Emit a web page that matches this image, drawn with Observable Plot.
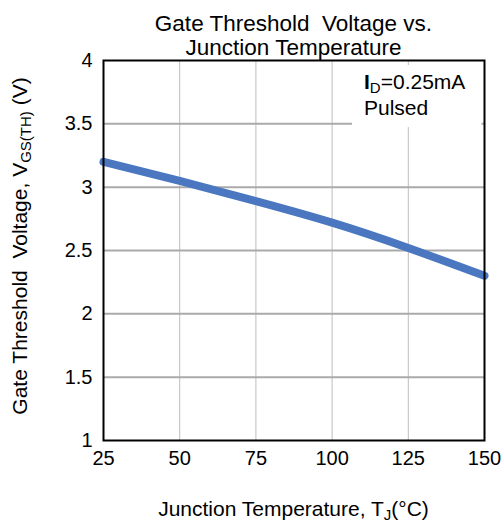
<!DOCTYPE html>
<html><head><meta charset="utf-8">
<script src="https://cdn.jsdelivr.net/npm/d3@7"></script>
<script src="https://cdn.jsdelivr.net/npm/@observablehq/plot@0.6"></script>
<style>
body{margin:0;background:#fff;}
svg text{font-family:"Liberation Sans",Arial,sans-serif;}
</style>
</head><body><div id="chart"></div>
<script>
// Data
const temps = [25, 50, 75, 100, 125, 150];          // Junction temperature (°C)
const vth   = [3.20, 3.05, 2.89, 2.72, 2.52, 2.30];  // V_GS(TH) (V)
const xTicks = [25, 50, 75, 100, 125, 150];
const yTicks = [1, 1.5, 2, 2.5, 3, 3.5, 4];
const titleLines = ["Gate Threshold  Voltage vs.", "Junction Temperature"];
const noteLine2 = "Pulsed";
// annotation box extent in data units
const noteBox = [{x1: 106.7, x2: 149.2, y1: 3.47, y2: 3.96}];

const data = temps.map((t, i) => ({t, v: vth[i]}));
const FONT = '"Liberation Sans",Arial,sans-serif';

const plot = Plot.plot({
  width: 503, height: 525,
  marginTop: 60, marginBottom: 85, marginLeft: 103, marginRight: 19,
  style: {fontFamily: FONT, fontSize: "20px", color: "#000", background: "#fff", overflow: "visible"},
  x: {domain: [25, 150]},
  y: {domain: [1, 4]},
  marks: [
    Plot.gridX(xTicks, {stroke: "#bdbdbd", strokeOpacity: 1, strokeWidth: 1}),
    Plot.gridY(yTicks.slice(1, -1), {stroke: "#aaaaaa", strokeOpacity: 1, strokeWidth: 2}),
    Plot.rect(noteBox, {x1: "x1", x2: "x2", y1: "y1", y2: "y2", fill: "white"}),
    Plot.line(data, {x: "t", y: "v", stroke: "#4a77bf", strokeWidth: 8, curve: "natural"}),
    Plot.frame({stroke: "#000", strokeWidth: 2}),
    Plot.axisX(xTicks, {tickSize: 0, tickPadding: 10, label: null, fontSize: 20, tickFormat: d => String(d)}),
    Plot.axisY(yTicks, {tickSize: 0, tickPadding: 11, label: null, fontSize: 20, tickFormat: d => String(d)})
  ]
});
document.getElementById("chart").appendChild(plot);

const svg = d3.select(plot);
svg.selectAll('[aria-label$="tick label"]').attr("font-size", 20);
const sx = plot.scale("x"), sy = plot.scale("y");
const cx = (sx.apply(25) + sx.apply(150)) / 2;

// Title
svg.append("text").attr("x", cx).attr("y", 31).attr("text-anchor", "middle")
  .attr("font-size", 22.5).attr("fill", "#000").style("white-space", "pre").text(titleLines[0]);
svg.append("text").attr("x", cx).attr("y", 55).attr("text-anchor", "middle")
  .attr("font-size", 22.5).attr("fill", "#000").text(titleLines[1]);

// X axis label
const xl = svg.append("text").attr("x", cx).attr("y", 516).attr("text-anchor", "middle")
  .attr("font-size", 21).attr("fill", "#000");
xl.append("tspan").text("Junction Temperature, T");
xl.append("tspan").attr("font-size", 15).attr("dy", 4).text("J");
xl.append("tspan").attr("dy", -4).text("(°C)");

// Y axis label
const yl = svg.append("text").attr("transform", `translate(27,${246}) rotate(-90)`)
  .attr("text-anchor", "middle").attr("font-size", 21).attr("fill", "#000").style("white-space", "pre");
yl.append("tspan").text("Gate Threshold  Voltage, V");
yl.append("tspan").attr("font-size", 15).attr("dy", 4).text("GS(TH)");
yl.append("tspan").attr("dy", -4).text(" (V)");

// Annotation text
const nx = sx.apply(noteBox[0].x1) + 12;
const n1 = svg.append("text").attr("x", nx).attr("y", 89).attr("text-anchor", "start")
  .attr("font-size", 21).attr("fill", "#000");
n1.append("tspan").attr("font-weight", "bold").text("I");
n1.append("tspan").attr("font-size", 15).attr("dy", 4).text("D");
n1.append("tspan").attr("dy", -4).text("=0.25mA");
svg.append("text").attr("x", nx).attr("y", 115).attr("text-anchor", "start")
  .attr("font-size", 21).attr("fill", "#000").text(noteLine2);
</script>
</body></html>
